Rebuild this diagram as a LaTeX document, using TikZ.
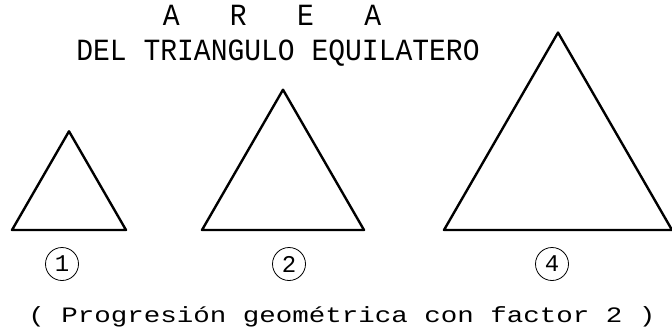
\documentclass[tikz,border=0pt]{standalone}
\usepackage{fontspec}
\newfontfamily\plotfont{Liberation Mono}
\usetikzlibrary{positioning}
\tikzset{
  tri/.style={line width=2.4pt,line join=round},
  heading/.style={font=\plotfont\fontsize{28}{30}\selectfont,anchor=base,inner sep=0pt},
  caption/.style={font=\plotfont\fontsize{27.5}{30}\selectfont,anchor=base,inner sep=0pt},
  factor/.style={circle,draw,line width=0.8pt,minimum size=33pt,inner sep=0pt,
    font=\plotfont\fontsize{24}{26}\selectfont},
}

\begin{document}
\begin{tikzpicture}[x=1pt,y=-1pt]
  \useasboundingbox (0,0) rectangle (672,332);
  % titles
  \node[heading] (area) at (272,25) {\scalebox{1}[1.1]{A~~~R~~~E~~~A}};
  \node[heading] (sub) at (278,60) {\scalebox{1}[1.1]{DEL TRIANGULO EQUILATERO}};
  % triangles, sides 1 : sqrt2 : 2
  \foreach \xl/\s in {12/114,202/162,444/228} {
    \draw[tri] (\xl,230) -- ++(\s,0) -- ++(240:\s) -- cycle;
  }
  % area factors
  \node[factor] (f1) at (62,264) {1};
  \node[factor] (f2) at (289,264) {2};
  \node[factor] (f4) at (552,264) {4};
  \node[caption] (prog) at (342,322) {\scalebox{1}[0.8]{( Progresión geométrica con factor 2 )}};
\end{tikzpicture}
\end{document}
